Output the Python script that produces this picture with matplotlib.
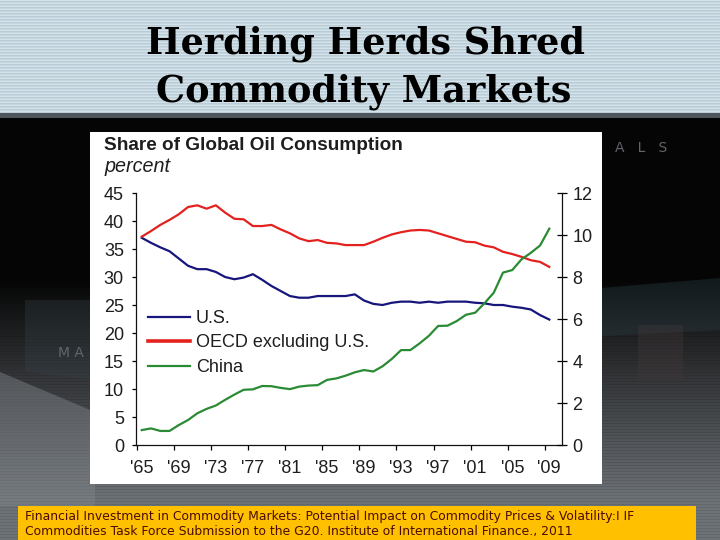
import numpy as np
import matplotlib
matplotlib.use("Agg")
import matplotlib.pyplot as plt
from matplotlib.patches import Rectangle, Polygon
from matplotlib.lines import Line2D

# ---------------- data ----------------
years = list(range(1965, 2010))
us_share = [37.0, 36.1, 35.3, 34.6, 33.3, 32.0, 31.4, 31.4, 30.9, 30.0,
            29.6, 29.9, 30.5, 29.5, 28.4, 27.5, 26.6, 26.3, 26.3, 26.6,
            26.6, 26.6, 26.6, 26.9, 25.8, 25.2, 25.0, 25.4, 25.6, 25.6,
            25.4, 25.6, 25.4, 25.6, 25.6, 25.6, 25.4, 25.3, 25.0, 25.0,
            24.7, 24.5, 24.2, 23.2, 22.4]
oecd_ex_us_share = [37.2, 38.2, 39.3, 40.2, 41.2, 42.5, 42.8, 42.2, 42.8, 41.5,
                    40.4, 40.3, 39.1, 39.1, 39.3, 38.5, 37.8, 36.9, 36.4, 36.6,
                    36.1, 36.0, 35.7, 35.7, 35.7, 36.3, 37.0, 37.6, 38.0, 38.3,
                    38.4, 38.3, 37.8, 37.3, 36.8, 36.3, 36.2, 35.6, 35.3, 34.5,
                    34.1, 33.6, 33.0, 32.7, 31.8]
china_share = [0.71, 0.79, 0.67, 0.67, 0.95, 1.19, 1.51, 1.72, 1.88, 2.15,
               2.40, 2.63, 2.65, 2.81, 2.80, 2.72, 2.66, 2.78, 2.83, 2.85,
               3.10, 3.17, 3.30, 3.46, 3.57, 3.50, 3.75, 4.10, 4.52, 4.52,
               4.84, 5.20, 5.67, 5.68, 5.90, 6.20, 6.30, 6.75, 7.25, 8.21,
               8.33, 8.84, 9.15, 9.50, 10.3]
series_names = ["U.S.", "OECD excluding U.S.", "China"]
left_ticks = [0, 5, 10, 15, 20, 25, 30, 35, 40, 45]
right_ticks = [0, 2, 4, 6, 8, 10, 12]
xlabel_years = list(range(1965, 2010, 4))
xlabel_texts = ["'65", "'69", "'73", "'77", "'81", "'85", "'89", "'93",
                "'97", "'01", "'05", "'09"]
xtick_marks = [1964.5 + 4 * k for k in range(12)]

slide_title = ["Herding Herds Shred", "Commodity Markets"]
chart_title = "Share of Global Oil Consumption"
unit_label = "percent"
source_lines = ["Financial Investment in Commodity Markets: Potential Impact on Commodity Prices & Volatility:I IF",
                "Commodities Task Force Submission to the G20. Institute of International Finance., 2011"]

BLUE = "#16167c"
RED = "#e3221f"
GREEN = "#2b8b34"
colors = [BLUE, RED, GREEN]

# ---------------- figure ----------------
W, H = 720, 540
fig = plt.figure(figsize=(7.2, 5.4), dpi=100)
bg = fig.add_axes([0, 0, 1, 1])
bg.set_xlim(0, W)
bg.set_ylim(H, 0)
bg.axis("off")

# background image
img = np.zeros((H, W, 3))
for i in range(H):
    if i < 113:
        c = np.array([0.77, 0.84, 0.875])
        if i % 3 == 0:
            c = np.array([0.84, 0.89, 0.92])
        elif i % 3 == 1:
            c = np.array([0.73, 0.80, 0.84])
    elif i < 118:
        c = np.array([0.30, 0.34, 0.36])
    else:
        t = np.clip((i - 280) / 220.0, 0, 1)
        c = np.array([0.02, 0.02, 0.02]) * (1 - t) + np.array([0.43, 0.45, 0.47]) * t
        if i > 330 and i % 3 == 0:
            c = c * 0.9
    img[i, :, :] = c
bg.imshow(img, extent=(0, W, H, 0), aspect="auto", interpolation="nearest", zorder=0)

# decorative shapes (subtle)
bg.add_patch(Polygon([(0, 372), (95, 412), (95, 506), (0, 506)], closed=True,
                     facecolor=(0.50, 0.52, 0.54), edgecolor="none", alpha=0.45, zorder=1))
bg.add_patch(Polygon([(25, 300), (95, 300), (95, 380), (25, 372)], closed=True,
                     facecolor=(0.22, 0.27, 0.30), edgecolor="none", alpha=0.3, zorder=1))
bg.add_patch(Polygon([(602, 288), (720, 278), (720, 330), (602, 336)], closed=True,
                     facecolor=(0.18, 0.26, 0.29), edgecolor="none", alpha=0.35, zorder=1))
bg.add_patch(Rectangle((638, 325), 45, 55, facecolor=(0.26, 0.22, 0.23),
                       edgecolor="none", alpha=0.4, zorder=1))
bg.text(615, 148, "A   L   S", color=(0.38, 0.39, 0.41), fontsize=10,
        family="DejaVu Sans", va="center", ha="left", zorder=1)
bg.text(58, 353, "M A", color=(0.38, 0.40, 0.42), fontsize=10,
        family="DejaVu Sans", va="center", ha="left", zorder=1)

# white chart panel
bg.add_patch(Rectangle((90, 132), 512, 352, facecolor="white", edgecolor="none", zorder=2))
# yellow source box
bg.add_patch(Rectangle((18, 506), 678, 40, facecolor="#FFC000", edgecolor="none", zorder=2))


def fit_width(t, target):
    rend = fig.canvas.get_renderer()
    for _ in range(2):
        w = t.get_window_extent(rend).width
        t.set_fontsize(t.get_fontsize() * target / w)


# slide title
t1 = bg.text(365, 54, slide_title[0], family="DejaVu Serif", weight="bold",
             fontsize=24, ha="center", va="baseline", color="black", zorder=3)
fit_width(t1, 438)
bg.text(364, 101, slide_title[1], family="DejaVu Serif", weight="bold",
        fontsize=t1.get_fontsize(), ha="center", va="baseline", color="black", zorder=3)

# chart title and unit
ct = bg.text(104, 149.5, chart_title, family="Liberation Sans", weight="bold",
             fontsize=13.5, ha="left", va="baseline", color="#1e1e1e", zorder=3)
fit_width(ct, 299)
ut = bg.text(104, 171.5, unit_label, family="Liberation Sans", style="italic",
             fontsize=13.5, ha="left", va="baseline", color="#1e1e1e", zorder=3)
fit_width(ut, 66)

# source text
s1 = bg.text(25, 520, source_lines[0], family="DejaVu Sans", fontsize=8,
             ha="left", va="baseline", color="#4a0c00", zorder=3)
fit_width(s1, 606)
bg.text(25, 534.5, source_lines[1], family="DejaVu Sans", fontsize=s1.get_fontsize(),
        ha="left", va="baseline", color="#4a0c00", zorder=3)

# legend (drawn manually in pixel space)
leg_rows = [316.7, 341.0, 366.0]
leg_widths = [1.6, 2.6, 1.6]
for name, col, yy, lw in zip(series_names, colors, leg_rows, leg_widths):
    bg.add_line(Line2D([148, 190], [yy, yy], color=col, lw=lw, zorder=4))
    bg.text(196, yy + 6.3, name, family="Liberation Sans", fontsize=13,
            ha="left", va="baseline", color="#1e1e1e", zorder=4)

# ---------------- chart axes ----------------
ax = fig.add_axes([136 / W, 1 - 445 / H, 426 / W, 252 / H])
ax.patch.set_visible(False)
ax.plot(years, us_share, color=BLUE, lw=1.6, solid_joinstyle="round")
ax.plot(years, oecd_ex_us_share, color=RED, lw=1.6, solid_joinstyle="round")
ax.set_xlim(1964.38, 2010.37)
ax.set_ylim(0, 45)

ax2 = ax.twinx()
ax2.plot(years, china_share, color=GREEN, lw=1.6, solid_joinstyle="round")
ax2.set_ylim(0, 12)

for a in (ax, ax2):
    a.spines["top"].set_visible(False)
    for s in a.spines.values():
        s.set_linewidth(0.9)
        s.set_color("#111111")
ax.spines["right"].set_visible(False)
ax2.spines["left"].set_visible(False)
ax2.spines["bottom"].set_visible(False)

ax.set_yticks(left_ticks)
ax.set_yticklabels([str(v) for v in left_ticks])
ax.tick_params(axis="y", direction="out", length=3.2, width=0.9, labelsize=13,
               pad=5.5, labelcolor="#1e1e1e")

ax.set_xticks(xtick_marks)
ax.set_xticklabels([""] * len(xtick_marks))
ax.tick_params(axis="x", which="major", direction="out", length=3.8, width=0.9)
ax.set_xticks(xlabel_years, labels=xlabel_texts, minor=True)
ax.tick_params(axis="x", which="minor", length=0, labelsize=13, pad=11,
               labelcolor="#1e1e1e")

ax2.set_yticks(right_ticks)
ax2.set_yticklabels([str(v) for v in right_ticks])
ax2.tick_params(axis="y", direction="inout", length=7.2, width=0.9, labelsize=13,
                pad=4, labelcolor="#1e1e1e")

for lbl in ax.get_yticklabels() + ax.get_xticklabels(minor=True) + ax2.get_yticklabels():
    lbl.set_family("Liberation Sans")

fig.savefig("out.png", dpi=100)
